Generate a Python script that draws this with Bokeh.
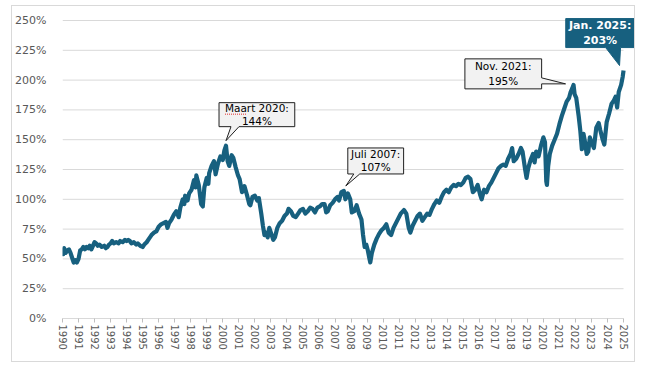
from bokeh.plotting import figure
from bokeh.models import Range1d, FixedTicker, PrintfTickFormatter, AllLabels
from bokeh.embed import file_html
from bokeh.resources import INLINE
from bokeh.core.properties import value

# ---------------- data ----------------
years = [
    1990.00, 1990.05, 1990.10, 1990.20, 1990.30, 1990.40, 1990.50, 1990.60, 1990.70, 1990.80, 1990.90,
    1991.00, 1991.10, 1991.20, 1991.30, 1991.40, 1991.50, 1991.60, 1991.70, 1991.80, 1991.90,
    1992.00, 1992.10, 1992.20, 1992.30, 1992.45, 1992.60, 1992.70, 1992.80, 1992.90,
    1993.00, 1993.10, 1993.20, 1993.35, 1993.50, 1993.60, 1993.75, 1993.90,
    1994.00, 1994.10, 1994.20, 1994.30, 1994.45, 1994.60, 1994.70, 1994.85,
    1995.00, 1995.10, 1995.25, 1995.40, 1995.55, 1995.70, 1995.85,
    1996.00, 1996.15, 1996.30, 1996.45, 1996.55, 1996.65, 1996.80, 1996.95,
    1997.10, 1997.25, 1997.35, 1997.50, 1997.60, 1997.65, 1997.80, 1997.90,
    1998.05, 1998.20, 1998.30, 1998.35, 1998.50, 1998.65, 1998.75, 1998.85,
    1999.00, 1999.10, 1999.15, 1999.30, 1999.45, 1999.55, 1999.70, 1999.85,
    2000.00, 2000.10, 2000.20, 2000.30, 2000.40, 2000.55, 2000.65, 2000.80, 2000.95,
    2001.05, 2001.20, 2001.35, 2001.50, 2001.65, 2001.72, 2001.85,
    2002.00, 2002.15, 2002.25, 2002.40, 2002.50, 2002.60, 2002.70, 2002.80, 2002.90,
    2003.00, 2003.15, 2003.25, 2003.40, 2003.55, 2003.70, 2003.85,
    2004.00, 2004.10, 2004.25, 2004.40, 2004.55, 2004.70, 2004.85,
    2005.00, 2005.15, 2005.30, 2005.45, 2005.60, 2005.75, 2005.90,
    2006.05, 2006.20, 2006.35, 2006.45, 2006.55, 2006.70, 2006.85,
    2007.00, 2007.15, 2007.25, 2007.40, 2007.55, 2007.65, 2007.80, 2007.95,
    2008.05, 2008.20, 2008.35, 2008.50, 2008.65, 2008.75, 2008.85, 2008.95,
    2009.05, 2009.15, 2009.20, 2009.30, 2009.45, 2009.60, 2009.75, 2009.90,
    2010.05, 2010.20, 2010.35, 2010.50, 2010.65, 2010.80, 2010.95,
    2011.10, 2011.30, 2011.45, 2011.60, 2011.70, 2011.85,
    2012.00, 2012.15, 2012.30, 2012.45, 2012.60, 2012.75, 2012.90,
    2013.05, 2013.20, 2013.35, 2013.50, 2013.65, 2013.80, 2013.95,
    2014.10, 2014.25, 2014.40, 2014.55, 2014.70, 2014.85,
    2015.00, 2015.15, 2015.30, 2015.45, 2015.60, 2015.75, 2015.90,
    2016.05, 2016.15, 2016.30, 2016.45, 2016.60, 2016.75, 2016.90,
    2017.05, 2017.20, 2017.35, 2017.50, 2017.65, 2017.80, 2017.95,
    2018.05, 2018.15, 2018.30, 2018.45, 2018.60, 2018.70, 2018.85, 2018.95,
    2019.05, 2019.20, 2019.35, 2019.45, 2019.55, 2019.70, 2019.85,
    2020.00, 2020.10, 2020.18, 2020.22, 2020.30, 2020.40, 2020.55, 2020.70, 2020.85,
    2021.00, 2021.15, 2021.30, 2021.45, 2021.60, 2021.70, 2021.80, 2021.88, 2021.95,
    2022.05, 2022.20, 2022.30, 2022.40, 2022.50, 2022.60, 2022.70, 2022.80, 2022.90,
    2023.00, 2023.15, 2023.30, 2023.45, 2023.55, 2023.70, 2023.80, 2023.95,
    2024.10, 2024.25, 2024.40, 2024.50, 2024.60, 2024.70, 2024.85, 2024.95, 2025.00,
]
values = [
    58, 54, 59, 55, 57, 58, 55, 51, 47, 49, 47,
    50, 57, 58, 60, 58, 60, 59, 61, 58, 61,
    64, 63, 61, 62, 60, 61, 59, 60, 62,
    63, 65, 63, 64, 63, 65, 64, 66,
    65, 66, 65, 63, 64, 62, 63, 61,
    60, 62, 64, 67, 70, 72, 73,
    77, 79, 80, 81, 76, 80, 83, 87,
    90, 85, 93, 100, 96, 103, 99, 105,
    108, 116, 110, 120, 112, 96, 94, 110,
    118, 113, 122, 128, 132, 121, 130, 136,
    133, 141, 145, 132, 128, 137, 135, 127, 120,
    117, 106, 111, 104, 96, 95, 102,
    103, 99, 101, 88, 78, 70, 72, 68, 76,
    72, 66, 68, 76, 80, 82, 86,
    88, 92, 90, 86, 85, 88, 91,
    92, 88, 90, 93, 92, 89, 93,
    94, 96, 96, 89, 90, 95, 97,
    100, 102, 99, 106, 107, 100, 105, 100,
    89, 90, 95, 88, 83, 70, 60, 62,
    57, 50, 47, 55, 62, 67, 71, 74,
    76, 79, 72, 70, 76, 80, 84,
    88, 91, 88, 76, 72, 78,
    82, 86, 88, 82, 85, 88, 87,
    92, 96, 99, 97, 102, 106, 108,
    106, 110, 112, 111, 113, 112,
    114, 118, 119, 117, 106, 108, 112,
    104, 100, 108, 106, 111, 114, 118,
    122, 126, 128, 129, 128, 134, 138,
    143, 132, 134, 138, 143, 140, 126, 118,
    126, 133, 138, 131, 140, 136, 145,
    152, 148, 115, 112, 128, 138, 145, 150, 155,
    163, 170, 176, 182, 185, 190, 193, 196, 188,
    185, 170, 158, 142, 155, 148, 138, 140, 152,
    148, 143, 160, 164, 158, 150, 146, 165,
    172, 180, 183, 186, 177, 190, 196, 203, 208,
]

tick_years = list(range(1990, 2026))
tick_pcts = list(range(0, 251, 25))

callout_labels = [
    ("Maart 2020:", "144%"),
    ("Juli 2007:", "107%"),
    ("Nov. 2021:", "195%"),
    ("Jan. 2025:", "203%"),
]
# window (in years) in which each callout's peak is searched
callout_windows = [(1999.0, 2001.0), (2006.0, 2008.5), (2021.0, 2022.5), (2024.9, 2025.1)]

# ---------------- layout ----------------
# figure placed at page (11,5); content origin (12,6) because of the 1px border
W, H = 624, 357
FL, FR, FT, FB = 48, 622, 6, 312        # frame edges (figure px)
X0_PX, X1_PX = 48, 611                   # 1990 and 2025 positions
Y0_PX, Y1_PX = 312, 14                   # 0% and 250% positions
PX_YEAR = (X1_PX - X0_PX) / (tick_years[-1] - tick_years[0])
PX_PCT = (Y0_PX - Y1_PX) / (tick_pcts[-1] - tick_pcts[0])

def dx(px):
    return px / PX_YEAR

def dy(px):
    return px / PX_PCT

LINE_COL = "#17607f"
GRID_COL = "#d9d9d9"
AXIS_TXT = "#595959"
FONT = "DejaVu Sans"

p = figure(
    width=W, height=H, output_backend="svg", toolbar_location=None,
    x_range=Range1d(tick_years[0], tick_years[-1] + dx(FR - X1_PX)),
    y_range=Range1d(tick_pcts[0], tick_pcts[-1] + dy(Y1_PX - FT)),
    min_border_left=FL, min_border_right=W - FR, min_border_top=FT, min_border_bottom=H - FB,
)
p.margin = (5, 0, 0, 11)
p.styles = {"border": "1px solid #d9d9d9"}
p.outline_line_color = None
p.background_fill_color = "white"
p.border_fill_color = "white"
p.xgrid.visible = False
p.ygrid.visible = False

# horizontal gridlines limited to 1990-2025
grid_y = tick_pcts[1:]
p.segment(x0=[tick_years[0]] * len(grid_y), x1=[tick_years[-1]] * len(grid_y),
          y0=grid_y, y1=grid_y, line_color=GRID_COL, line_width=1)

# axes
p.xaxis.ticker = FixedTicker(ticks=tick_years)
p.xaxis.bounds = (tick_years[0], tick_years[-1])
p.xaxis.major_label_orientation = "vertical"
p.xaxis.major_label_policy = AllLabels()
p.xaxis.axis_line_color = GRID_COL
p.xaxis.major_tick_line_color = "#bfbfbf"
p.xaxis.major_tick_out = 4
p.xaxis.major_tick_in = 0
p.xaxis.minor_tick_line_color = None
p.xaxis.major_label_standoff = 2
p.xaxis.major_label_text_font = FONT
p.xaxis.major_label_text_font_size = "10px"
p.xaxis.major_label_text_color = AXIS_TXT

p.yaxis.ticker = FixedTicker(ticks=tick_pcts)
p.yaxis.formatter = PrintfTickFormatter(format="%d%%")
p.yaxis.axis_line_color = None
p.yaxis.major_tick_line_color = None
p.yaxis.minor_tick_line_color = None
p.yaxis.major_label_standoff = 10
p.yaxis.major_label_text_font = FONT
p.yaxis.major_label_text_font_size = "11px"
p.yaxis.major_label_text_color = AXIS_TXT

# the series
p.line(years, values, line_color=LINE_COL, line_width=4.2, line_join="round")

# ---------------- callouts ----------------
callout_geom = [
    dict(tip=(0, 5), box=(-7, 69, 14, 38), side="bottom", base=(5, 13), dark=False),
    dict(tip=(2, 5), box=(2, 58, 12, 38), side="bottom", base=(8, 14), dark=False),
    dict(tip=(-8, 1), box=(-101, -24, -5, 25), side="right", base=(0, 6), dark=False),
    dict(tip=(-4, 5), box=(-54, 15, 18, 47), side="bottom", base=(-14, 1), dark=True),
]

for (l1, l2), (w0, w1), g in zip(callout_labels, callout_windows, callout_geom):
    cand = [(v, x) for x, v in zip(years, values) if w0 <= x <= w1]
    pv, px_ = max(cand)
    tx = px_ + dx(g["tip"][0])
    ty = pv + dy(g["tip"][1])
    L, R, B, T = g["box"]
    xl, xr = tx + dx(L), tx + dx(R)
    yb, yt = ty + dy(B), ty + dy(T)
    if g["side"] == "bottom":
        b0, b1 = tx + dx(g["base"][0]), tx + dx(g["base"][1])
        xs = [xl, xl, xr, xr, b1, tx, b0]
        ys = [yb, yt, yt, yb, yb, ty, yb]
    else:
        b0, b1 = ty + dy(g["base"][0]), ty + dy(g["base"][1])
        xs = [xl, xl, xr, xr, tx, xr, xr]
        ys = [yb, yt, yt, b1, ty, b0, yb]
    if g["dark"]:
        fill, edge, tcol, style, fsize = LINE_COL, LINE_COL, "white", "bold", "11px"
    else:
        fill, edge, tcol, style, fsize = "#f2f2f2", "#1f1f1f", "black", "normal", "10.5px"
    p.patch(xs, ys, fill_color=fill, line_color=edge, line_width=1)
    cx = (xl + xr) / 2
    cy = (yb + yt) / 2
    half = (T - B) / 2
    gap = 7.5 if half >= 14.5 else 6.5
    p.text(x=[cx, cx], y=[cy + dy(gap), cy - dy(gap)], text=[l1, l2],
           text_font=value(FONT), text_font_size=fsize, text_font_style=style,
           text_color=tcol, text_align="center", text_baseline="middle")
    if l1.startswith("Maart"):
        # spell-check squiggle under "Maart"
        p.line([xl + dx(6), xl + dx(28)], [cy + dy(gap - 6), cy + dy(gap - 6)],
               line_color="#e03030", line_width=1, line_dash="1 1")

open("out.html", "w").write(file_html(p, INLINE))
